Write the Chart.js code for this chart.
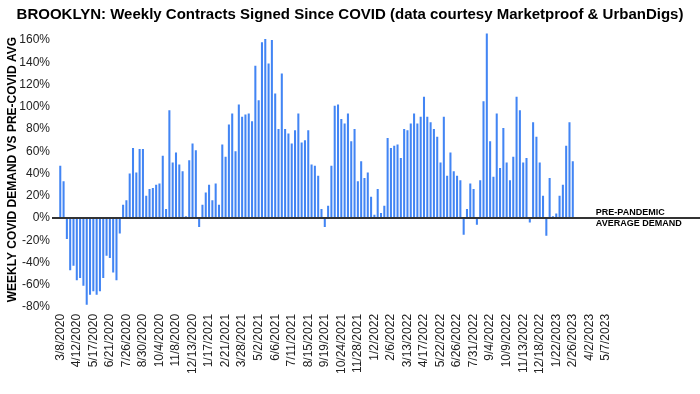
<!DOCTYPE html>
<html>
<head>
<meta charset="utf-8">
<script src="https://cdn.jsdelivr.net/npm/chart.js@4.4.1/dist/chart.umd.min.js"></script>
<style>
  body { margin: 0; background: #fff; }
  #wrap { width: 700px; height: 394px; }
</style>
</head>
<body>
<div id="wrap"><canvas id="chart"></canvas></div>
<script>
// weekly contracts signed, % vs pre-covid average (weeks 3/8/2020 .. 2/26/2023)
const demand = [
  47, 33, -19, -47, -43, -56, -54, -61, -78, -69,
  -66, -69, -66, -54, -34, -36, -49, -56, -14, 12,
  16, 40, 63, 41, 62, 62, 20, 26, 27, 30,
  31, 56, 8, 97, 50, 59, 48, 42, 1.5, 52,
  67, 61, -8, 12, 23, 30, 16, 31, 12, 66,
  55, 84, 94, 60, 102, 91, 93, 94, 87, 137,
  106, 158, 161, 139, 160, 112, 80, 130, 80, 76,
  67, 79, 94, 68, 70, 79, 48, 47, 38, 8,
  -8, 11, 47, 101, 102, 89, 85, 94, 69, 80,
  33, 51, 36, 41, 19, 3, 26, 4.5, 11, 72,
  63, 65, 66, 54, 80, 79, 85, 94, 85, 91,
  109, 91, 86, 80, 73, 50, 91, 38, 59, 42,
  38, 34, -15, 8, 31, 26, -6, 34, 105, 166,
  69, 37, 94, 45, 81, 50, 34, 55, 109, 97,
  50, 54, -4, 86, 73, 50, 20, -16, 36, 1.5,
  4, 20, 30, 65, 86, 51
];

// every 5th week is labelled on the axis
const tickLabels = [
  '3/8/2020', '4/12/2020', '5/17/2020', '6/21/2020', '7/26/2020', '8/30/2020',
  '10/4/2020', '11/8/2020', '12/13/2020', '1/17/2021', '2/21/2021', '3/28/2021',
  '5/2/2021', '6/6/2021', '7/11/2021', '8/15/2021', '9/19/2021', '10/24/2021',
  '11/28/2021', '1/2/2022', '2/6/2022', '3/13/2022', '4/17/2022', '5/22/2022',
  '6/26/2022', '7/31/2022', '9/4/2022', '10/9/2022', '11/13/2022', '12/18/2022',
  '1/22/2023', '2/26/2023', '4/2/2023', '5/7/2023'
];

// y axis ticks, in %
const yTicks = [-80, -60, -40, -20, 0, 20, 40, 60, 80, 100, 120, 140, 160];

const leadWeeks = 2;   // empty slots before the first week
const axisWeeks = 166; // 3/8/2020 .. 5/7/2023
const trailWeeks = 22; // empty room on the right, under the note

// build weekly category names
let weeks = [];
let d = new Date(2020, 2, 8);
for (let i = 0; i < leadWeeks; i++) weeks.push('');
for (let i = 0; i < axisWeeks; i++) {
    weeks.push((d.getMonth() + 1) + '/' + d.getDate() + '/' + d.getFullYear());
    d.setDate(d.getDate() + 7);
}
for (let i = 0; i < trailWeeks; i++) weeks.push('');

let values = [];
for (let i = 0; i < leadWeeks; i++) values.push(null);
values = values.concat(demand);

const FONT = '"Liberation Sans", Arial, sans-serif';

// baseline at 0% running out to the right edge, with its note
const baseline = {
    id: 'baseline',
    afterDatasetsDraw(chart) {
        const { ctx, chartArea, scales } = chart;
        const y0 = scales.y.getPixelForValue(0);
        const xNote = scales.x.getPixelForValue(leadWeeks + axisWeeks - 1) - 10;
        ctx.save();
        ctx.strokeStyle = '#333';
        ctx.lineWidth = 2;
        ctx.beginPath();
        ctx.moveTo(chartArea.left, y0);
        ctx.lineTo(chart.width, y0);
        ctx.stroke();
        ctx.fillStyle = '#000';
        ctx.font = 'bold 9px ' + FONT;
        ctx.textAlign = 'left';
        ctx.textBaseline = 'middle';
        ctx.fillText('PRE-PANDEMIC', xNote, y0 - 5.5);
        ctx.fillText('AVERAGE DEMAND', xNote, y0 + 5.5);
        ctx.restore();
    }
};

let ctx = document.getElementById('chart').getContext('2d');
new Chart(ctx, {
    type: 'bar',
    data: {
        labels: weeks,
        datasets: [{
            label: 'Weekly demand',
            data: values,
            backgroundColor: '#4285f4',
            categoryPercentage: 1,
            barPercentage: 0.62
        }]
    },
    options: {
        responsive: true,
        maintainAspectRatio: false,
        animation: false,
        layout: { padding: { left: 0, right: 0, top: 0, bottom: 13 } },
        plugins: {
            legend: { display: false },
            tooltip: { enabled: false },
            title: {
                display: true,
                text: 'BROOKLYN: Weekly Contracts Signed Since COVID (data courtesy Marketproof & UrbanDigs)',
                color: '#000',
                font: { family: FONT, size: 15, weight: 'bold' },
                padding: { top: 6, bottom: 8.3 }
            }
        },
        scales: {
            x: {
                grid: { display: false, drawTicks: false },
                border: { display: false },
                ticks: {
                    autoSkip: false,
                    minRotation: 90,
                    maxRotation: 90,
                    padding: 7,
                    color: '#222',
                    font: { family: FONT, size: 12 },
                    callback: function (value, index) {
                        let k = index - leadWeeks;
                        if (k >= 0 && k % 5 === 0 && k / 5 < tickLabels.length) return tickLabels[k / 5];
                        return '';
                    }
                }
            },
            y: {
                min: -80,
                max: 167,
                grid: { display: false, drawTicks: false },
                border: { display: false },
                afterBuildTicks: axis => {
                    axis.ticks = yTicks.map(v => ({ value: v }));
                },
                afterFit: axis => { axis.width = 52; },
                ticks: {
                    padding: 2,
                    color: '#222',
                    font: { family: FONT, size: 12 },
                    callback: v => v + '%'
                },
                title: {
                    display: true,
                    text: 'WEEKLY COVID DEMAND VS PRE-COVID AVG',
                    color: '#000',
                    font: { family: FONT, size: 12, weight: 'bold' },
                    padding: { top: 5, bottom: 0 }
                }
            }
        }
    },
    plugins: [baseline]
});
</script>
</body>
</html>
